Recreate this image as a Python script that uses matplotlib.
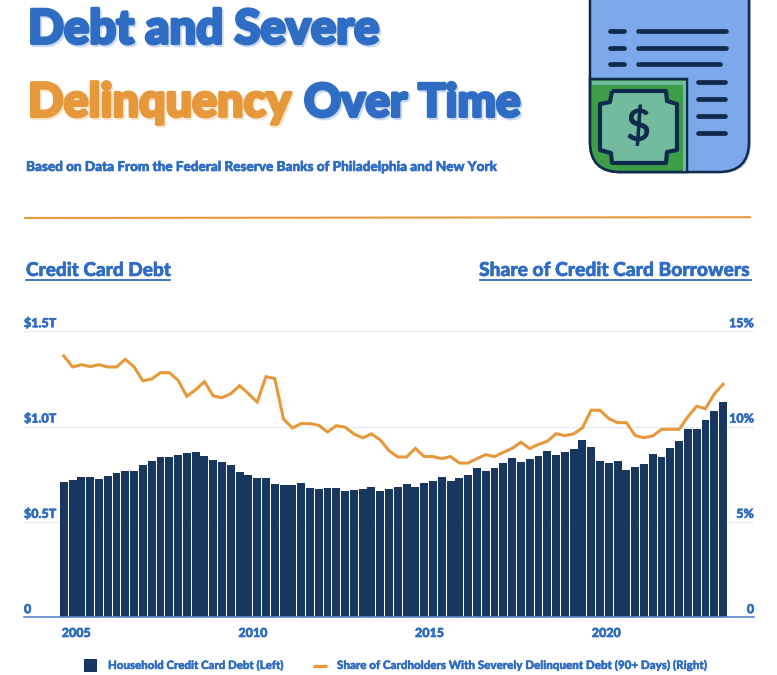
import matplotlib
matplotlib.use("Agg")
import matplotlib.pyplot as plt
import matplotlib.patheffects as pe
from matplotlib.patches import FancyBboxPatch, Rectangle, PathPatch
from matplotlib.path import Path
from matplotlib.transforms import ScaledTranslation

# ---------- data ----------
debt_trillions = [
    .710, .720, .736, .736, .726, .741, .757, .767, .767, .799, .820, .841, .841, .851, .862, .867, .846, .825, .815,
    .799, .762, .747, .731, .731, .699, .694, .694, .705, .678, .673, .678, .678, .663, .668, .673, .684, .663, .673,
    .684, .699, .684, .705, .715, .736, .715, .731, .747, .783, .767, .783, .809, .836, .815, .830, .846, .872, .851,
    .867, .883, .930, .893, .820, .809, .820, .773, .788, .804, .857, .841, .888, .925, .988, .988, 1.035, 1.082, 1.129]
delinquent_pct = [
    13.71, 13.13, 13.25, 13.15, 13.25, 13.13, 13.13, 13.53, 13.13, 12.40, 12.50, 12.83, 12.83, 12.43, 11.59, 11.94,
    12.36, 11.61, 11.52, 11.73, 12.15, 11.73, 11.29, 12.62, 12.52, 10.40, 9.93, 10.16, 10.16, 10.07, 9.72, 10.05,
    9.97, 9.62, 9.41, 9.62, 9.30, 8.74, 8.41, 8.41, 8.86, 8.43, 8.43, 8.32, 8.43, 8.09, 8.09, 8.32, 8.53, 8.43,
    8.65, 8.86, 9.18, 8.85, 9.07, 9.23, 9.63, 9.53, 9.62, 9.93, 10.86, 10.86, 10.42, 10.21, 10.21, 9.53, 9.42, 9.51,
    9.86, 9.86, 9.86, 10.52, 11.07, 10.94, 11.71, 12.22]
quarter_index = list(range(len(debt_trillions)))
year_labels = ["2005", "2010", "2015", "2020"]
year_ticks = [1.4, 21.5, 41.6, 61.7]
left_ticks = [0, 0.5, 1.0, 1.5]
left_labels = ["0", "$0.5T", "$1.0T", "$1.5T"]
right_ticks = [0, 5, 10, 15]
right_labels = ["0", "5%", "10%", "15%"]

# ---------- style ----------
W, H = 777, 675
BLUE = "#2F6CC4"
ORANGE = "#E7983B"
NAVY = "#173761"
DARK = "#0E2A4C"
FONT = ["Lato", "Noto Sans", "DejaVu Sans"]
plt.rcParams["font.family"] = FONT
plt.rcParams["text.parse_math"] = False

fig = plt.figure(figsize=(W / 100, H / 100), dpi=100, facecolor="white")

# overlay in pixel coordinates for page furniture
pg = fig.add_axes([0, 0, 1, 1], zorder=0)
pg.set_xlim(0, W)
pg.set_ylim(H, 0)
pg.axis("off")


def heavy(x, y, s, color, size, stroke=2.2, **kw):
    pg.text(x, y, s, color=color, fontsize=size, fontweight=900, va="baseline", zorder=5,
            path_effects=[pe.withStroke(linewidth=stroke, foreground=color),
                          pe.SimpleLineShadow(offset=(1.2, -1.5), shadow_color=color, alpha=0.25,
                                              linewidth=stroke),
                          pe.Normal()], **kw)


heavy(28, 43.5, "Debt and Severe", BLUE, 34)
heavy(28, 116.5, "Delinquency", ORANGE, 33.6)
heavy(304, 116.5, "Over Time", BLUE, 32.9)


def bold(x, y, s, size, stroke=0.4, **kw):
    pg.text(x, y, s, color=BLUE, fontsize=size, fontweight=900, va="baseline",
            path_effects=[pe.withStroke(linewidth=stroke, foreground=BLUE)], **kw)


bold(26, 171, "Based on Data From the Federal Reserve Banks of Philadelphia and New York", 9.75)

pg.plot([24, 751], [218, 217.2], color=ORANGE, lw=1.5, solid_capstyle="butt")

bold(26, 276, "Credit Card Debt", 13.7)
pg.plot([26, 170], [279.5, 279.5], color=BLUE, lw=1.3)
bold(751, 276, "Share of Credit Card Borrowers", 13.85, ha="right")
pg.plot([480, 751], [279.5, 279.5], color=BLUE, lw=1.3)

# ---------- icon ----------
pg.add_patch(FancyBboxPatch((592, -70), 159, 243.5, boxstyle="round,pad=0,rounding_size=30",
                            fc="#C4CEDA", ec="none", zorder=1))
pg.add_patch(FancyBboxPatch((590, -70), 159, 242, boxstyle="round,pad=0,rounding_size=30",
                            fc="#7DA9EC", ec=DARK, lw=1.8, zorder=2))
G = Path([(590, 79), (687, 79), (687, 172), (620, 172), (590, 172), (590, 142), (590, 79)],
         [Path.MOVETO, Path.LINETO, Path.LINETO, Path.LINETO, Path.CURVE3, Path.CURVE3, Path.CLOSEPOLY])
pg.add_patch(PathPatch(G, fc="#3D9E47", ec=DARK, lw=1.8, zorder=3))
pg.add_patch(Rectangle((683, 81), 3, 90, fc="#73BB9E", ec="none", zorder=3))
pg.add_patch(Rectangle((591.5, 81), 94, 4, fc="#73BB9E", ec="none", zorder=3))
note = Path([(612, 91), (666, 91), (667, 101), (677, 104), (677, 150), (667, 152), (666, 163), (612, 163),
             (611, 153), (600, 150), (600, 104), (610, 102), (612, 91)])
pg.add_patch(PathPatch(note, fc="#73BB9E", ec=DARK, lw=3.0, joinstyle="round", zorder=4))
pg.text(638.5, 127, "$", color=DARK, fontsize=31, fontweight=400, ha="center", va="center", zorder=5,
        path_effects=[pe.withStroke(linewidth=0.8, foreground=DARK)])
for y, short_end, long_end in [(31, 626, 726), (48, 626, 726), (64, 626, 720)]:
    pg.plot([610, short_end - 2], [y, y], color=DARK, lw=3.4, solid_capstyle="round", zorder=5)
    pg.plot([638, long_end], [y, y], color=DARK, lw=3.4, solid_capstyle="round", zorder=5)
for y in [82, 99, 116, 133]:
    pg.plot([698, 725], [y, y], color=DARK, lw=3.4, solid_capstyle="round", zorder=5)

# ---------- chart ----------
L, R, T, B = 24, 754, 331.3, 617.3
ax = fig.add_axes([L / W, 1 - B / H, (R - L) / W, (B - T) / H], zorder=2)
ax.patch.set_alpha(0)
ax.bar(quarter_index, debt_trillions, width=0.9, color=NAVY, zorder=3)
ax.set_xlim((L - 63.8) / 8.79, (R - 63.8) / 8.79)
ax.set_ylim(0, 1.5)
ax.set_yticks(left_ticks)
ax.set_yticklabels(left_labels)
ax.set_xticks(year_ticks)
ax.set_xticklabels(year_labels)
ax.tick_params(axis="both", length=0, labelcolor=BLUE, labelsize=9)
ax.tick_params(axis="y", pad=0)
ax.tick_params(axis="x", pad=7)
ax.grid(axis="y", color="#E6ECF8", lw=1, zorder=0)
for s in ["top", "left", "right"]:
    ax.spines[s].set_visible(False)
ax.spines["bottom"].set_color("#5B86C9")
ax.spines["bottom"].set_linewidth(1.2)
ax.spines["bottom"].set_zorder(5)
raise_labels = ScaledTranslation(0, 1.5 / 72, fig.dpi_scale_trans)
for lab in ax.get_yticklabels():
    lab.set_ha("left")
    lab.set_va("bottom")
    lab.set_fontweight(900)
    lab.set_path_effects([pe.withStroke(linewidth=0.4, foreground=BLUE)])
    lab.set_transform(lab.get_transform() + raise_labels)
for lab in ax.get_xticklabels():
    lab.set_fontweight(900)
    lab.set_path_effects([pe.withStroke(linewidth=0.4, foreground=BLUE)])

ax2 = ax.twinx()
ax2.patch.set_alpha(0)
ax2.plot(quarter_index, delinquent_pct, color=ORANGE, lw=2.2, solid_joinstyle="miter", zorder=4)
ax2.set_ylim(0, 15)
ax2.set_yticks(right_ticks)
ax2.set_yticklabels(right_labels)
ax2.tick_params(axis="y", length=0, labelcolor=BLUE, labelsize=9, pad=0)
for s in ax2.spines.values():
    s.set_visible(False)
for lab in ax2.get_yticklabels():
    lab.set_ha("right")
    lab.set_va("bottom")
    lab.set_fontweight(900)
    lab.set_path_effects([pe.withStroke(linewidth=0.4, foreground=BLUE)])
    lab.set_transform(lab.get_transform() + raise_labels)

# ---------- legend ----------
pg.add_patch(Rectangle((84, 659), 13, 13, fc=NAVY, ec="none"))
bold(108, 669, "Household Credit Card Debt (Left)", 8.25, stroke=0.3)
pg.plot([313, 327], [665.5, 665.5], color=ORANGE, lw=2.4, solid_capstyle="butt")
bold(337, 669, "Share of Cardholders With Severely Delinquent Debt (90+ Days) (Right)", 8.35, stroke=0.3)

fig.savefig("out.png", dpi=100)
